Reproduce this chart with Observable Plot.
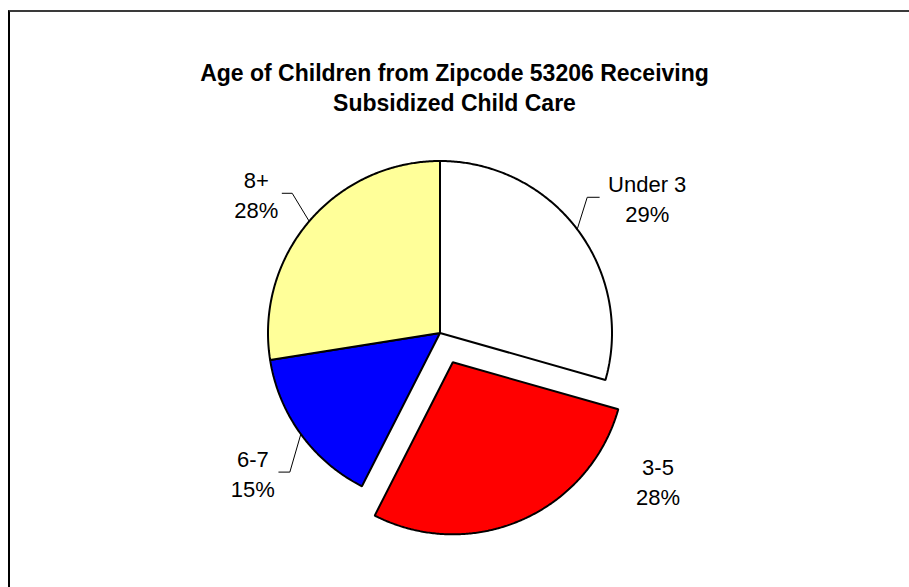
<!DOCTYPE html>
<html>
<head>
<meta charset="utf-8">
<script src="https://cdn.jsdelivr.net/npm/d3@7"></script>
<script src="https://cdn.jsdelivr.net/npm/@observablehq/plot@0.6"></script>
<style>
  html, body { margin: 0; padding: 0; background: #fff; overflow: hidden; }
  #wrap { position: relative; width: 909px; height: 587px; }
  #border { position: absolute; left: 8px; top: 10px; width: 1200px; height: 1200px;
    border-top: 2px solid #3a3a3a; border-left: 2px solid #000; pointer-events: none; }
</style>
</head>
<body>
<div id="wrap"><div id="border"></div></div>
<script>
// ---- data ----
const categories = ["Under 3", "3-5", "6-7", "8+"];
const values = [29.4, 28.1, 15.0, 27.5];
const percentLabels = ["29%", "28%", "15%", "28%"];
const colors = ["#FFFFFF", "#FF0000", "#0000FF", "#FFFF99"];
const exploded = ["3-5"];
const titleLines = ["Age of Children from Zipcode 53206 Receiving", "Subsidized Child Care"];

// ---- layout ----
const W = 909, H = 587;
const cx = 439.5, cy = 332.5, R = 172, explodeDist = 32;
const font = "Liberation Sans, Arial, Helvetica, sans-serif";
// leader: elbow offset from edge point, horizontal run; text: offset of label centre
const labelLayout = {
  "Under 3": {elbow: [10, -32], run: 12, text: [48, 0]},
  "3-5":     {elbow: null, text: [218, 147]},
  "6-7":     {elbow: [-11, 38], run: -11, text: [-26, 0]},
  "8+":      {elbow: [-17, -28], run: -10, text: [-26, 0]}
};

const total = d3.sum(values);
const pie = d3.pie().sort(null).value(d => d.value)
  .startAngle(0).endAngle(2 * Math.PI);
const arcs = pie(categories.map((c, i) => ({cat: c, value: values[i], color: colors[i], pct: percentLabels[i]})));

const pt = (a, r, ox = 0, oy = 0) => ({x: cx + ox + r * Math.sin(a), y: cy + oy - r * Math.cos(a)});

const sliceMarks = [];
const leaderMarks = [];
const labelData = [];
arcs.forEach(a => {
  const mid = (a.startAngle + a.endAngle) / 2;
  const isEx = exploded.includes(a.data.cat);
  const ox = isEx ? explodeDist * Math.sin(mid) : 0;
  const oy = isEx ? -explodeDist * Math.cos(mid) : 0;
  const pts = [{x: cx + ox, y: cy + oy}];
  const n = Math.max(8, Math.ceil((a.endAngle - a.startAngle) / (Math.PI / 360)));
  for (let k = 0; k <= n; k++) {
    const ang = a.startAngle + (a.endAngle - a.startAngle) * k / n;
    pts.push(pt(ang, R, ox, oy));
  }
  sliceMarks.push(Plot.line(pts, {x: "x", y: "y", fill: a.data.color, stroke: "#000",
    strokeWidth: 2, curve: "linear-closed", strokeLinejoin: "miter"}));

  const L = labelLayout[a.data.cat];
  let tx, ty;
  if (L.elbow) {
    const e = pt(mid, R, ox, oy);
    const el = {x: e.x + L.elbow[0], y: e.y + L.elbow[1]};
    const end = {x: el.x + L.run, y: el.y};
    leaderMarks.push(Plot.line([e, el, end], {x: "x", y: "y", stroke: "#000", strokeWidth: 1}));
    tx = end.x + L.text[0]; ty = end.y + L.text[1];
  } else {
    tx = cx + L.text[0]; ty = cy + L.text[1];
  }
  labelData.push({x: tx, y: ty, text: a.data.cat + "\n" + a.data.pct});
});

const chart = Plot.plot({
  width: W, height: H, margin: 0,
  x: {domain: [0, W], range: [0, W], axis: null},
  y: {domain: [0, H], range: [0, H], axis: null},
  style: {fontFamily: font, background: "transparent"},
  marks: [
    ...sliceMarks,
    ...leaderMarks,
    Plot.text(labelData, {x: "x", y: "y", text: "text", fontSize: 22, lineHeight: 1.36,
      textAnchor: "middle", lineAnchor: "middle", fill: "#000", fontFamily: font}),
    Plot.text([titleLines.join("\n")], {x: () => 454, y: () => 86, text: d => d, fontSize: 23,
      fontWeight: "bold", lineHeight: 1.3, textAnchor: "middle", lineAnchor: "middle",
      fill: "#000", fontFamily: font})
  ]
});
chart.style.position = "absolute";
chart.style.left = "0";
chart.style.top = "0";
document.getElementById("wrap").insertBefore(chart, document.getElementById("border"));
</script>
</body>
</html>
